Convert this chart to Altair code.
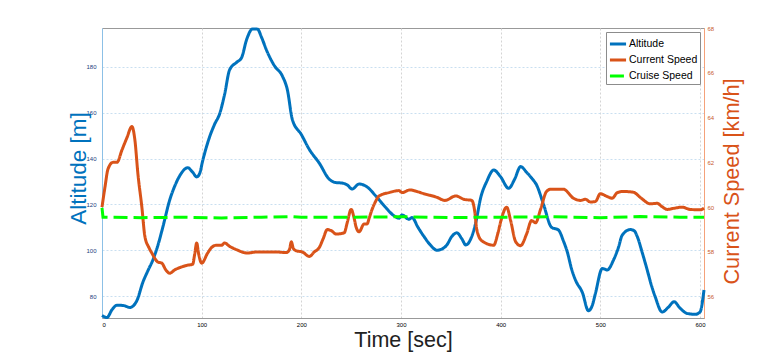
import altair as alt
import pandas as pd

# ---- data ----
series_names = ["Altitude", "Current Speed", "Cruise Speed"]
series_colors = ["#0072BD", "#D95319", "#00FF00"]
series_dashes = [[1, 0], [1, 0], [14, 6]]

alt_time = [0, 5, 10, 15, 22, 28, 35, 41, 46, 51, 56, 61, 68, 73, 78, 86, 91, 95, 98, 101,
            108, 113, 118, 123, 128, 135, 140, 145, 151, 156, 160, 165, 173, 181, 186, 191,
            200, 208, 218, 228, 235, 241, 246, 251, 258, 266, 275, 285, 293, 298, 301, 308,
            311, 317, 323, 330, 336, 341, 346, 351, 356, 361, 365, 371, 375, 380, 386, 393,
            400, 408, 414, 420, 426, 431, 436, 443, 451, 458, 463, 467, 471, 475, 482, 488,
            492, 495, 502, 507, 513, 518, 522, 530, 534, 537, 542, 547, 551, 555, 562, 568,
            574, 580, 587, 595, 600, 604]
alt_values = [71.5, 70.6, 74, 76, 75.8, 75, 78, 86, 91, 95.7, 102, 110, 122, 128, 132.5, 136,
              134, 132, 133.5, 139, 149.5, 155, 159.5, 168, 178.7, 182, 184, 191.8, 196.6,
              196.5, 193, 187.4, 180.5, 176, 170, 157, 150.5, 144, 138, 131, 129.5, 129.3,
              128.5, 126.7, 128.9, 127.6, 123.5, 118.5, 115, 114, 115.4, 113.5, 114.3, 110,
              106, 102, 100, 100.5, 102.3, 106, 107.6, 105, 102.3, 106, 112, 123, 130, 135,
              132, 127, 131, 136.5, 134, 131.5, 128.5, 120, 110, 108.8, 104, 99, 92, 87, 81.5,
              73.6, 76, 81, 92, 91.4, 95.5, 101, 106.6, 109, 108.5, 106, 99, 91.4, 85, 79.7,
              73, 75, 77.5, 74.7, 72.4, 72, 73, 82.6]

speed_time = [0, 3, 6, 11, 15, 20, 25, 30, 33, 36, 40, 43, 47, 50, 56, 60, 64, 68, 73, 78, 85,
              91, 93, 95, 97, 100, 106, 110, 115, 120, 123, 128, 135, 146, 155, 165, 175, 185,
              188, 190, 192, 195, 201, 208, 213, 218, 222, 226, 230, 235, 243, 246, 250, 253,
              255, 258, 263, 266, 268, 271, 275, 278, 288, 298, 301, 309, 316, 323, 336, 344,
              355, 363, 371, 374, 376, 381, 393, 397, 400, 406, 410, 415, 420, 426, 431, 435,
              440, 446, 450, 463, 473, 480, 485, 490, 495, 500, 507, 512, 517, 523, 533, 541,
              550, 557, 562, 567, 574, 582, 590, 600, 604]
speed_values = [60.0, 60.9, 61.7, 62.0, 62.0, 62.55, 63.1, 63.6, 63.0, 61.5, 60.0, 58.7, 58.2,
                57.95, 57.55, 57.5, 57.2, 57.05, 57.2, 57.3, 57.4, 57.45, 57.9, 58.4, 57.9,
                57.5, 57.95, 58.2, 58.3, 58.3, 58.4, 58.25, 58.1, 57.95, 58.0, 58.0, 58.0,
                57.97, 58.1, 58.45, 58.15, 58.05, 58.0, 57.8, 58.0, 58.2, 58.6, 59.0, 58.95,
                58.8, 58.85, 59.3, 59.9, 59.5, 59.1, 58.9, 59.25, 59.25, 59.5, 59.9, 60.3,
                60.5, 60.65, 60.74, 60.65, 60.77, 60.7, 60.6, 60.44, 60.3, 60.5, 60.35, 60.3,
                59.8, 59.0, 58.5, 58.3, 58.8, 59.35, 60.0, 59.4, 58.46, 58.28, 58.8, 59.4,
                59.3, 59.9, 60.7, 60.8, 60.8, 60.4, 60.3, 60.35, 60.23, 60.25, 60.6, 60.47,
                60.4, 60.65, 60.7, 60.67, 60.4, 60.15, 60.17, 60.02, 59.9, 59.95, 60.0, 59.9,
                59.88, 59.95]

cruise_time = [0, 1, 40, 80, 120, 160, 190, 200, 250, 300, 350, 400, 450, 500, 540, 580, 604]
cruise_values = [59.97, 59.55, 59.53, 59.55, 59.52, 59.55, 59.58, 59.55, 59.55, 59.57, 59.54,
                 59.55, 59.57, 59.53, 59.58, 59.55, 59.55]

x_ticks = [0, 100, 200, 300, 400, 500, 600]
alt_ticks = [80, 100, 120, 140, 160, 180]
speed_ticks = [56, 58, 60, 62, 64, 66, 68]

df_alt = pd.DataFrame({"t": alt_time, "alt": alt_values, "series": "Altitude"})
df_speed = pd.DataFrame({"t": speed_time, "spd": speed_values, "series": "Current Speed"})
df_cruise = pd.DataFrame({"t": cruise_time, "spd": cruise_values, "series": "Cruise Speed"})

FONT = "Liberation Sans"

legend = alt.Legend(
    title=None, orient="top-right", offset=4, symbolType="stroke", symbolStrokeWidth=3,
    symbolSize=260, labelFontSize=10.5, labelFont=FONT, labelColor="black",
    strokeColor="#8c8c8c", fillColor="white", padding=2, rowPadding=-4, labelOffset=1,
)

color = alt.Color("series:N", scale=alt.Scale(domain=series_names, range=series_colors), legend=legend)
dash = alt.StrokeDash("series:N", scale=alt.Scale(domain=series_names, range=series_dashes), legend=legend)

x_enc = alt.X(
    "t:Q",
    scale=alt.Scale(domain=[0, 604], nice=False, zero=False),
    axis=alt.Axis(
        values=x_ticks, title="Time [sec]", grid=True, gridColor="#d4d4d4", gridDash=[2, 2],
        ticks=False, labelFontSize=6, labelPadding=3, labelColor="black", domainColor="#999999",
        titleFontSize=21.5, titleFont=FONT, titleFontWeight="normal", titleColor="#222222",
        titleY=22, titleBaseline="middle", format="d",
    ),
)

altitude = alt.Chart(df_alt).mark_line(strokeWidth=3, interpolate="monotone").encode(
    x=x_enc,
    y=alt.Y(
        "alt:Q",
        scale=alt.Scale(domain=[70.4, 197], nice=False, zero=False),
        axis=alt.Axis(
            orient="left", values=alt_ticks, grid=True, gridColor="#c9dff0", gridDash=[2, 2],
            ticks=False, labelFontSize=6, labelPadding=6, labelColor="#1a3d7c",
            domainColor="#8cc0e6", title="Altitude [m]", titleFontSize=22.5, titleFont=FONT,
            titleFontWeight="normal", titleColor="#0072BD", titleAngle=270, titleX=-24,
            titleY=140, titleBaseline="middle", titleAlign="center", format="d",
        ),
    ),
    color=color,
    strokeDash=dash,
)

speed_axis = alt.Axis(
    orient="right", values=speed_ticks, grid=False, ticks=False, labelFontSize=6,
    labelPadding=3, labelColor="#c85a2a", domainColor="#f5a27a", title="Current Speed [km/h]",
    titleFontSize=21.7, titleFont=FONT, titleFontWeight="normal", titleColor="#D95319",
    titleAngle=270, titleX=27, titleY=153, titleBaseline="middle", titleAlign="center",
    format="d",
)
speed_scale = alt.Scale(domain=[55.05, 68], nice=False, zero=False)

speed = alt.Chart(df_speed).mark_line(strokeWidth=3, interpolate="monotone").encode(
    x=x_enc,
    y=alt.Y("spd:Q", scale=speed_scale, axis=speed_axis),
    color=color,
    strokeDash=dash,
)
cruise = alt.Chart(df_cruise).mark_line(strokeWidth=3).encode(
    x=x_enc,
    y=alt.Y("spd:Q", scale=speed_scale, axis=speed_axis),
    color=color,
    strokeDash=dash,
)

right = alt.layer(speed, cruise)

chart = (
    alt.layer(altitude, right)
    .resolve_scale(y="independent")
    .properties(
        width=602, height=290,
        padding={"left": 94, "top": 20, "right": 68, "bottom": 34},
        autosize=alt.AutoSizeParams(type="none"),
        background="white",
    )
    .configure(font=FONT)
    .configure_view(stroke="#999999", strokeWidth=1)
)

chart.save("out.html", embed_options={"renderer": "svg", "actions": False})
